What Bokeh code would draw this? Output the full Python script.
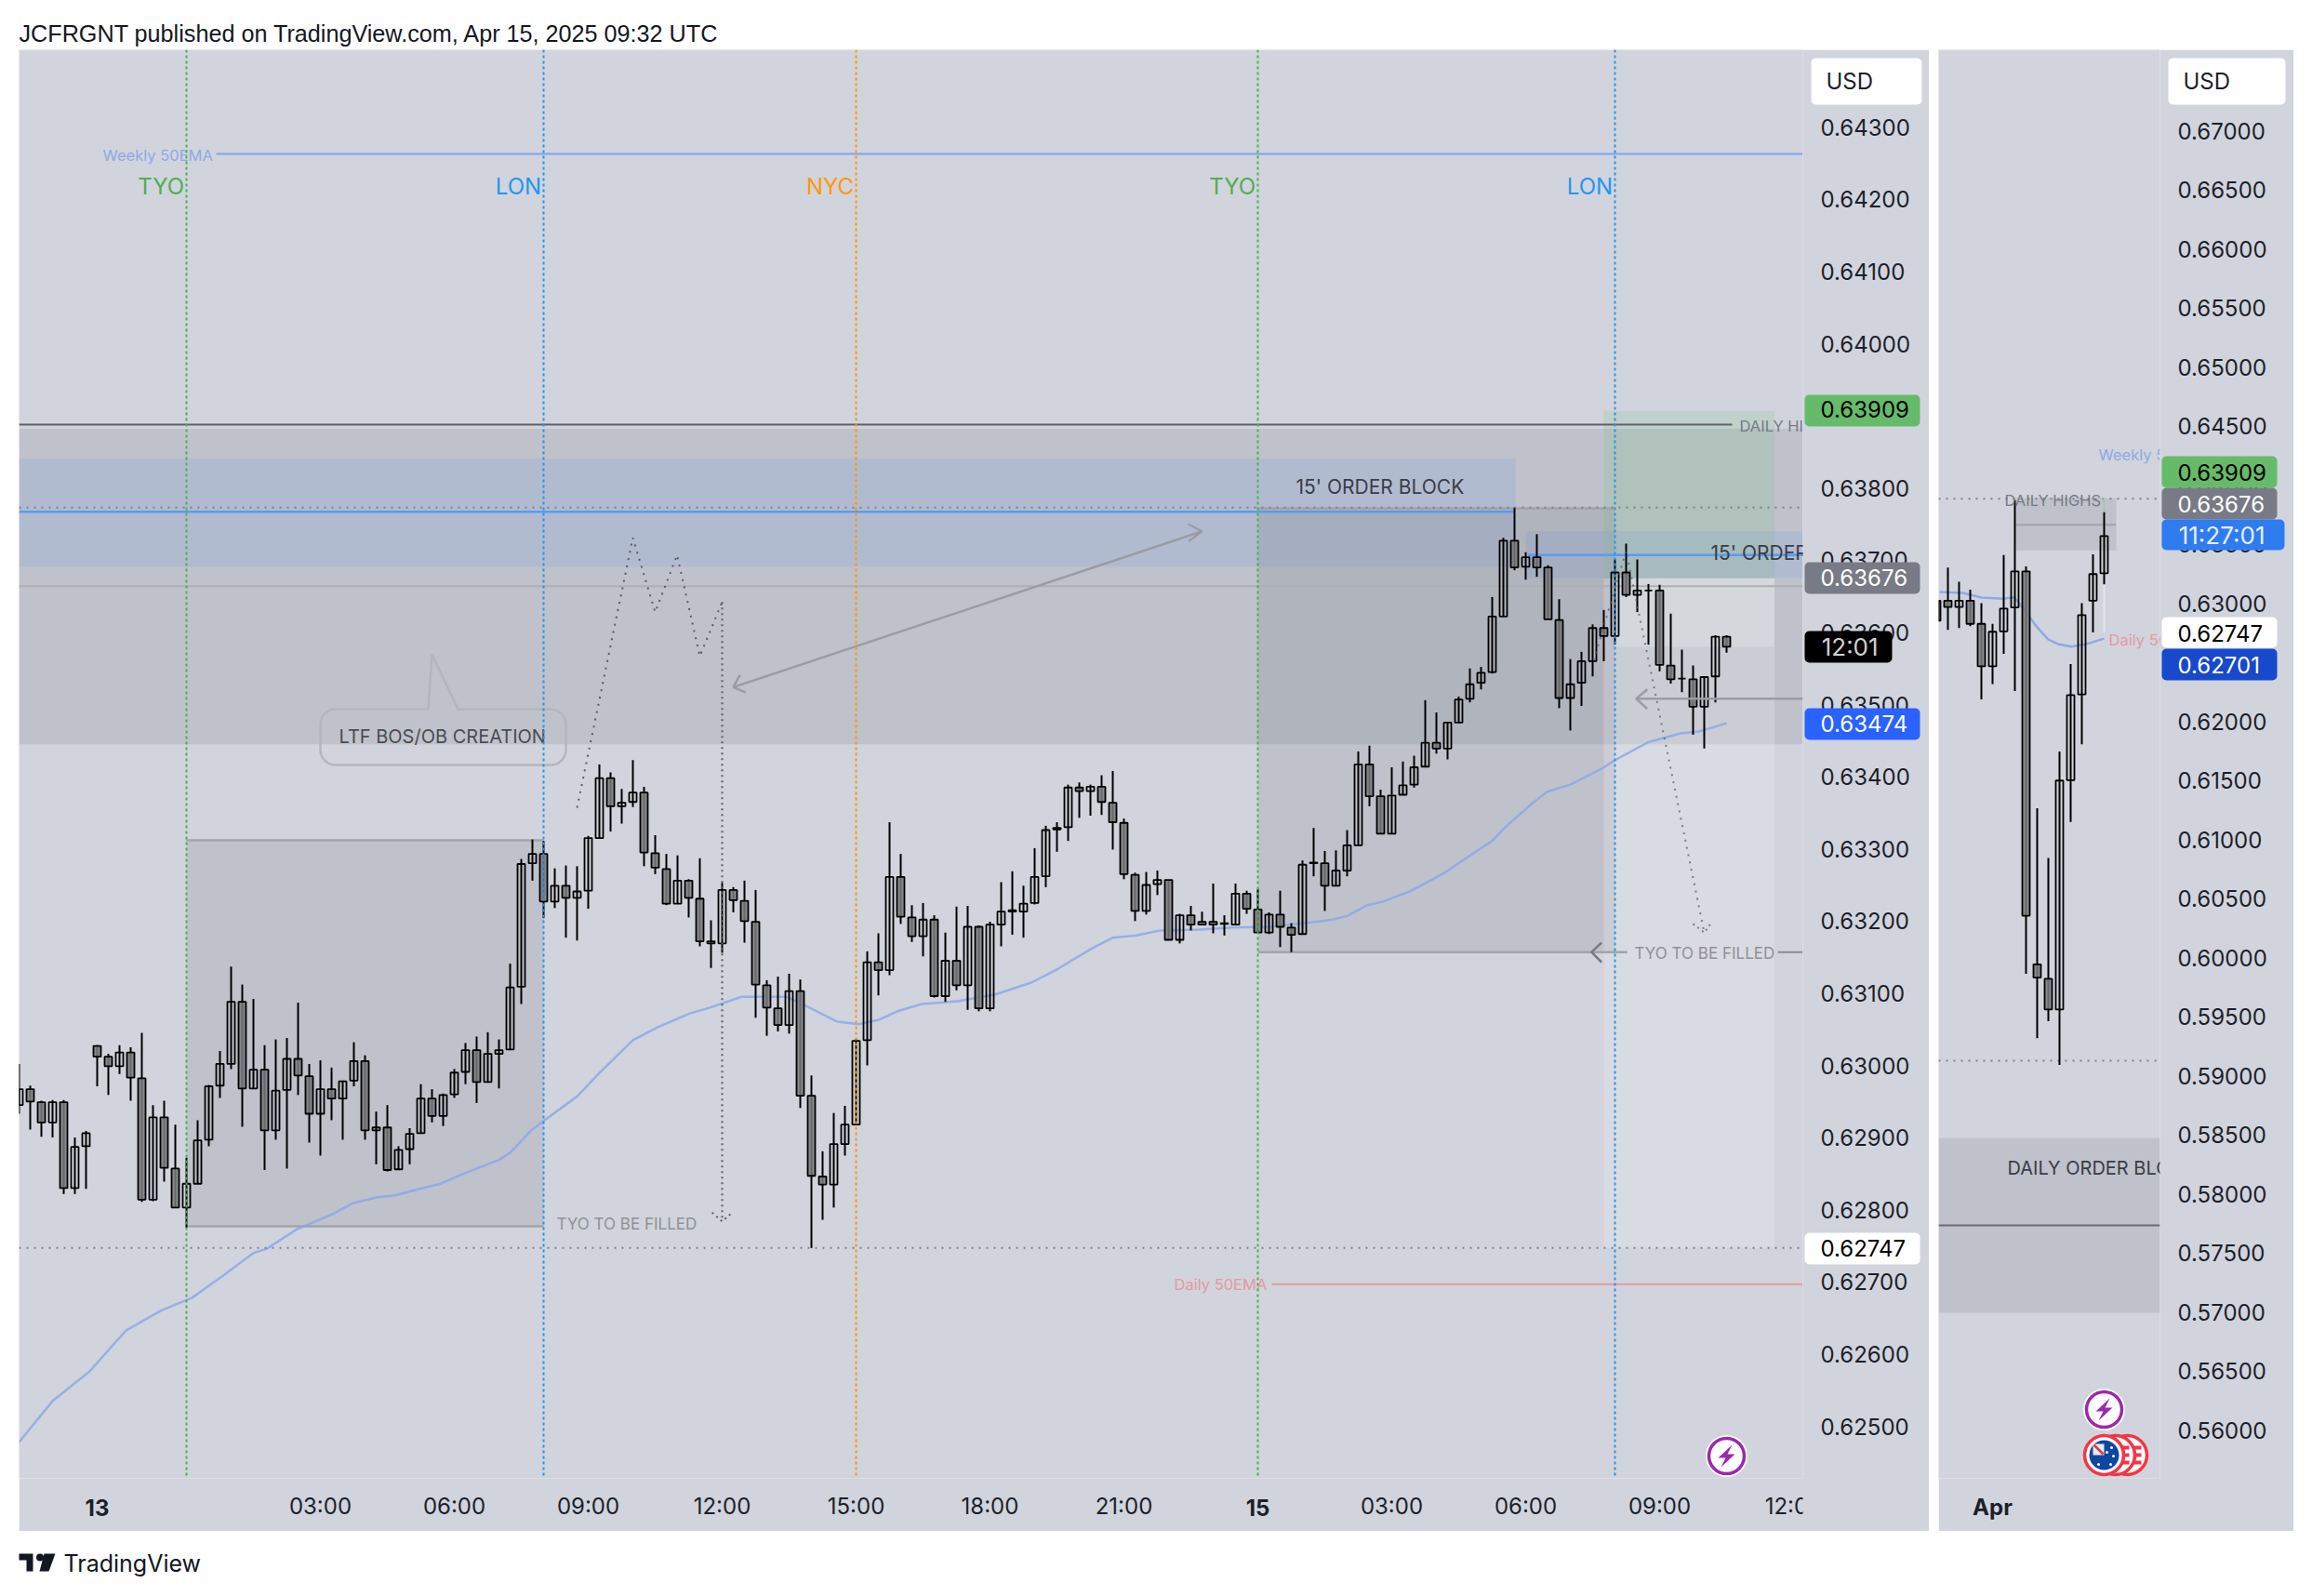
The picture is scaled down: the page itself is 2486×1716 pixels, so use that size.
import numpy as np
from bokeh.plotting import figure
from bokeh.layouts import column, row
from bokeh.models import Span, FixedTicker, PrintfTickFormatter, Spacer
from bokeh.core.properties import value
from bokeh.embed import file_html
from bokeh.resources import INLINE

# ---------- 15 minute pane: AUDUSD candles, index 0 = Apr 14 00:00 ----------
first_bar = -15
highs = [.63002,.62972,.62951,.62952,.62952,.62900,.62909,.63028,.63016,.63028,.63025,.63045,.62945,.62951,.62918,
 .62872,.62924,.62973,.63020,.63137,.63112,.63092,.63028,.63036,.63038,.63087,.63002,.63007,.62997,.62979,.63032,
 .63014,.62936,.62945,.62888,.62913,.62974,.62967,.62961,.62995,.63031,.63040,.63046,.63036,.63141,.63286,.63313,
 .63311,.63273,.63277,.63276,.63318,.63417,.63406,.63383,.63423,.63386,.63319,.63293,.63291,.63258,.63287,.63201,
 .63253,.63247,.63256,.63243,.63118,.63123,.63127,.63119,.62986,.62881,.62934,.62944,.63037,.63158,.63183,.63337,
 .63293,.63222,.63225,.63208,.63184,.63220,.63221,.63194,.63199,.63254,.63269,.63249,.63301,.63332,.63337,.63389,
 .63392,.63389,.63402,.63408,.63342,.63267,.63268,.63270,.63257,.63210,.63221,.63213,.63252,.63208,.63252,.63242,
 .63244,.63212,.63242,.63197,.63284,.63329,.63297,.63298,.63326,.63435,.63443,.63382,.63413,.63421,.63429,.63506,
 .63489,.63476,.63511,.63550,.63552,.63649,.63731,.63773,.63711,.63736,.63693,.63646,.63563,.63573,.63611,.63631,
 .63702,.63723,.63701,.63667,.63666,.63626,.63576,.63554,.63538,.63596,.63596]
body_tops = [.62967,.62967,.62949,.62949,.62949,.62887,.62906,.63027,.63012,.63018,.63018,.62982,.62928,.62928,.62857,
 .62836,.62896,.62971,.63002,.63088,.63088,.62994,.62994,.62965,.63009,.63009,.62985,.62967,.62967,.62978,.63006,
 .63006,.62914,.62914,.62883,.62905,.62954,.62954,.62959,.62990,.63021,.63021,.63016,.63021,.63108,.63279,.63293,
 .63293,.63249,.63249,.63241,.63315,.63398,.63398,.63364,.63378,.63378,.63294,.63272,.63256,.63256,.63231,.63172,
 .63243,.63243,.63228,.63199,.63111,.63079,.63103,.63103,.62958,.62846,.62891,.62918,.63034,.63143,.63143,.63261,
 .63261,.63205,.63202,.63202,.63145,.63145,.63192,.63192,.63195,.63213,.63215,.63224,.63261,.63326,.63329,.63385,
 .63385,.63386,.63386,.63364,.63336,.63264,.63250,.63257,.63257,.63208,.63208,.63199,.63199,.63197,.63238,.63238,
 .63216,.63209,.63209,.63191,.63278,.63281,.63280,.63270,.63305,.63417,.63417,.63373,.63374,.63388,.63413,.63447,
 .63447,.63475,.63507,.63528,.63544,.63622,.63727,.63727,.63704,.63704,.63690,.63617,.63528,.63560,.63606,.63606,
 .63683,.63683,.63658,.63658,.63658,.63554,.63536,.63535,.63538,.63594,.63594]
body_bottoms = [.62945,.62950,.62921,.62921,.62830,.62830,.62888,.63012,.62999,.62999,.62983,.62814,.62814,.62858,.62803,
 .62803,.62836,.62897,.62972,.63002,.62968,.62968,.62910,.62910,.62966,.62986,.62933,.62933,.62954,.62954,.62979,
 .62910,.62910,.62855,.62856,.62884,.62906,.62930,.62930,.62960,.62991,.62977,.62977,.63016,.63022,.63109,.63280,
 .63227,.63227,.63232,.63232,.63242,.63315,.63359,.63359,.63365,.63295,.63274,.63224,.63224,.63232,.63172,.63169,
 .63169,.63229,.63200,.63112,.63080,.63056,.63056,.62958,.62847,.62835,.62835,.62891,.62918,.63035,.63132,.63132,
 .63206,.63179,.63179,.63096,.63096,.63111,.63111,.63079,.63079,.63195,.63213,.63213,.63225,.63262,.63327,.63330,
 .63380,.63380,.63365,.63337,.63265,.63214,.63214,.63251,.63174,.63174,.63195,.63195,.63195,.63196,.63195,.63217,
 .63184,.63184,.63192,.63181,.63182,.63280,.63249,.63249,.63270,.63305,.63373,.63321,.63321,.63375,.63389,.63414,
 .63439,.63439,.63475,.63508,.63530,.63545,.63622,.63690,.63691,.63690,.63618,.63509,.63509,.63530,.63560,.63595,
 .63595,.63652,.63652,.63658,.63555,.63535,.63536,.63497,.63497,.63539,.63580]
lows = [.62933,.62911,.62901,.62900,.62822,.62822,.62829,.62971,.62959,.62988,.62951,.62811,.62812,.62839,.62803,
 .62775,.62836,.62888,.62955,.62995,.62915,.62968,.62855,.62897,.62857,.62959,.62893,.62875,.62924,.62897,.62971,
 .62897,.62863,.62853,.62856,.62863,.62906,.62921,.62916,.62955,.62974,.62948,.62977,.62968,.63022,.63085,.63256,
 .63204,.63218,.63177,.63173,.63217,.63315,.63324,.63335,.63358,.63276,.63265,.63222,.63224,.63205,.63165,.63135,
 .63156,.63212,.63170,.63066,.63041,.63047,.63044,.62941,.62747,.62786,.62803,.62875,.62918,.63000,.63097,.63125,
 .63196,.63171,.63151,.63094,.63088,.63104,.63077,.63075,.63075,.63165,.63181,.63177,.63223,.63247,.63296,.63311,
 .63343,.63346,.63347,.63299,.63258,.63200,.63209,.63236,.63174,.63169,.63187,.63195,.63183,.63180,.63195,.63210,
 .63184,.63182,.63164,.63157,.63182,.63262,.63214,.63249,.63262,.63305,.63359,.63321,.63321,.63375,.63385,.63414,
 .63432,.63424,.63474,.63503,.63521,.63543,.63622,.63686,.63673,.63677,.63618,.63495,.63464,.63498,.63539,.63560,
 .63583,.63649,.63628,.63583,.63546,.63529,.63517,.63458,.63439,.63503,.63572]
directions = ("UDDUDUUDDUDDUDD" "UUUUUDUDUUDDUDUU" "DUDUUUDUUUDUUUUU" "DUDUUU" "DUUDDDUDDDUDDD" "DDUDDDUUUUDUDDUDUDUDUU"
              "UUUUUUDUDDDDUU" "DUDDDUUDDUDDUUDUUUDDUUUUDU" "UUUUUDUDDDUUUDUDUUDDUDUUD")
assert len(highs) == len(lows) == len(body_tops) == len(body_bottoms) == len(directions) == 154
# 15 minute EMA
ema_bars = [-15,-12,-8.75,-5.4,-2.2,.5,3.4,6,7.2,9.9,13.1,14.9,17,18.7,20.9,22.75,25,28,29,30.9,32,35,36.9,40,42.25,45.1,
 46.9,49.75,53.8,55.7,58.25,60.2,62,63.7,65.9,69.1,70.6,72.4,75.75,78,81,83,85.1,87.25,90.75,93.75,97.1,99.3,100.8,
 102.7,104,105.8,107.2,109.75,112.75,115.8,117,118.3,120.6,121.9,124,126.9,128,131,133.9,135.6,138]
ema_vals = [.62478,.62535,.62575,.62633,.62661,.62678,.62710,.62740,.62746,.62773,.62794,.62809,.62817,.62820,.62829,
 .62836,.62851,.62869,.62879,.62910,.62923,.62957,.62988,.63035,.63053,.63072,.63080,.63095,.63095,.63081,.63061,
 .63057,.63063,.63075,.63085,.63089,.63093,.63098,.63115,.63133,.63161,.63177,.63180,.63187,.63188,.63191,.63192,
 .63196,.63198,.63202,.63207,.63222,.63227,.63242,.63267,.63299,.63311,.63332,.63363,.63379,.63389,.63412,.63423,
 .63448,.63460,.63463,.63474]
price_ticks = [.625,.626,.627,.628,.629,.630,.631,.632,.633,.634,.635,.636,.637,.638,.639,.640,.641,.642,.643]
time_ticks = [12,24,36,48,60,72,84,108,120,132,144]
time_labels = ["03:00","06:00","09:00","12:00","15:00","18:00","21:00","03:00","06:00","09:00","12:00"]
sessions = [(0,"TYO","#4caf50"),(32,"LON","#2196f3"),(60,"NYC","#ff9800"),(96,"TYO","#4caf50"),(128,"LON","#2196f3")]

# ---------- daily pane ----------
d_bars = list(range(-1,15))
d_highs = [.63030,.63301,.63182,.63115,.63000,.62825,.63407,.63873,.63311,.61263,.60842,.61745,.62485,.63000,.63413,.63770]
d_tops  = [.63021,.63021,.63021,.63021,.62825,.62758,.62954,.63269,.63269,.59942,.59820,.61498,.62221,.62899,.63246,.63568]
d_bots  = [.62851,.62967,.62967,.62825,.62465,.62465,.62761,.62963,.60354,.59830,.59560,.59560,.61501,.62227,.63021,.63253]
d_lows  = [.62840,.62774,.62790,.62806,.62186,.62314,.62571,.62256,.59862,.59316,.59460,.59090,.61148,.61806,.62751,.63160]
d_dirs  = "UDUDDUUUDDDUUUUU"
d_ema_bars = [-.75,1.33,3,4.94,5.92,6.75,7.86,8.97,9.94,11.06,12.3,14]
d_ema_vals = [.63095,.63086,.63047,.63037,.6305,.62957,.62812,.62694,.62651,.62632,.62651,.62700]
d_ticks = [.56,.565,.57,.575,.58,.585,.59,.595,.60,.605,.61,.615,.62,.625,.63,.635,.64,.645,.65,.655,.66,.665,.67]

BG = "#d1d4dc"; GREY = "#787b86"; FONT = "Inter"; TEXT = "#1c1f2b"
FS = "24px"

def px(x): return (x-200)/12
def py(y): return .625+(1533-y)/77600
def dx(x): return (x-2094)/12
def dy(y): return .56+(1537-y)/12700

def make_pane(width, right, xr, yr, ticks):
    p = figure(width=width, height=1593, x_range=xr, y_range=yr, y_axis_location="right",
               output_backend="svg", toolbar_location=None, min_border_left=0, min_border_top=0,
               min_border_right=right, min_border_bottom=57, background_fill_color=BG, border_fill_color=BG,
               frame_align=False)
    p.grid.visible = False
    p.outline_line_color = None
    p.yaxis.ticker = FixedTicker(ticks=ticks)
    p.yaxis.formatter = PrintfTickFormatter(format="%.5f")
    for ax in (p.xaxis[0], p.yaxis[0]):
        ax.axis_line_color = None
        ax.major_tick_line_color = None
        ax.minor_tick_line_color = None
        ax.major_label_text_font = FONT
        ax.major_label_text_font_size = FS
        ax.major_label_text_color = TEXT
        ax.major_label_text_font_style = "normal"
    p.yaxis.major_label_standoff = 13
    p.xaxis.major_label_standoff = 9
    return p

def make_overlay(width, xr, yr):
    v = figure(width=width, height=1593, x_range=xr, y_range=yr, x_axis_location=None, y_axis_location=None,
               output_backend="svg", toolbar_location=None, min_border=0, frame_align=False,
               background_fill_alpha=0, border_fill_alpha=0)
    v.grid.visible = False
    v.outline_line_color = None
    v.styles = {"margin-left": f"-{width}px"}
    return v

def zone(p, x0, x1, y0, y1, color=GREY, alpha=.2):
    p.quad(left=x0, right=x1, bottom=y0, top=y1, fill_color=color, fill_alpha=alpha, line_color=None)

def hline(p, x0, x1, y, color, width=2, dash="solid", alpha=1):
    p.line([x0, x1], [y, y], line_color=color, line_width=width, line_dash=dash, line_alpha=alpha)

def words(p, x, y, t, color, size, align="left", weight="normal", alpha=1):
    p.text([x], [y], text=[t], text_color=color, text_font=value(FONT), text_font_size=size,
           text_align=align, text_baseline="middle", text_font_style=weight, text_alpha=alpha)

def candles(p, xs, hi, top, bot, lo, dirs, w):
    p.segment(xs, hi, xs, lo, line_color="#000000", line_width=2)
    ux = [x for x, d in zip(xs, dirs) if d == "U"]
    dxs = [x for x, d in zip(xs, dirs) if d == "D"]
    p.vbar(ux, width=w, top=[t for t, d in zip(top, dirs) if d == "U"], bottom=[b for b, d in zip(bot, dirs) if d == "U"],
           fill_alpha=0, line_color="#000000", line_width=1.8)
    p.vbar(dxs, width=w, top=[t for t, d in zip(top, dirs) if d == "D"], bottom=[b for b, d in zip(bot, dirs) if d == "D"],
           fill_color="#7a7b7f", fill_alpha=.85, line_color="#000000", line_width=1.8)

def tag(v, x0, x1, xt, ya, yb, yc, text, bg, fg, size=FS):
    v.quad(left=[x0], right=[x1], bottom=[yb], top=[ya], fill_color=bg, line_color=None, border_radius=5)
    words(v, xt, yc, text, fg, size)

def bolt(p, cx, cy, fx, fy):
    p.scatter([fx(cx)], [fy(cy)], size=42, marker="circle", fill_color="#ffffff", line_color="#ffffff", line_width=3)
    p.scatter([fx(cx)], [fy(cy)], size=38, marker="circle", fill_color="#ffffff", line_color="#9c27b0", line_width=3.5)
    s = [(6,-12),(-9,2),(-1,2),(-6,12),(9,-2),(1,-2)]
    p.patch([fx(cx+a) for a, b in s], [fy(cy+b) for a, b in s], fill_color="#9c27b0", line_color=None)

# ================= main pane =================
x_end = px(1938)
p1 = make_pane(2054, 136, (first_bar, x_end), (py(1589), py(53)), price_ticks)
p1.xaxis.ticker = FixedTicker(ticks=time_ticks)
p1.xaxis.major_label_overrides = {t: l for t, l in zip(time_ticks, time_labels)}
v1 = make_overlay(2054, (px(20), px(2074)), (py(1646), py(53)))

zone(p1, first_bar, x_end, .63445, .63882)                 # daily order block
zone(p1, first_bar, 119.1, .63691, .63841, "#5493f1", .13) # 15' order block
zone(p1, 120, x_end, .63675, .63740, "#5493f1", .13)
zone(p1, 96, 128, .63157, .63772)                          # TYO box 2
zone(p1, 0, 32, .62777, .63312)                            # TYO box 1
zone(p1, 127, 142.3, .63675, .63907, "#66bb6a", .15)       # long position
zone(p1, 127, 142.3, .62747, .63675, "#ffffff", .18)
zone(p1, 128, 142.3, .63580, .63675, "#ffffff", .2)

for y0, x0, x1 in [(.63312,0,32),(.62777,0,32),(.63157,96,129.1),(.63772,96,128)]:
    hline(p1, x0, x1, y0, "#a2a4aa", 2.5)
hline(p1, 142.6, x_end, .63157, "#8a8c92", 2)
hline(p1, first_bar, px(1862), .63888, "#5f6166", 2)
hline(p1, first_bar, x_end, .63664, "#adafb5", 2)
hline(p1, px(232), x_end, .64263, "#7ca3ef", 2)
hline(p1, px(1367), x_end, .62697, "#e79aa5", 2)
hline(p1, first_bar, 119, .63767, "#5b9bf0", 2.5)
hline(p1, 120.2, x_end, .63707, "#5b9bf0", 2.5)

p1.line(ema_bars, ema_vals, line_color="#8aa5ea", line_alpha=.8, line_width=2.5)
candles(p1, list(range(first_bar, first_bar+len(highs))), highs, body_tops, body_bottoms, lows, directions, .667)

hline(p1, first_bar, x_end, .63773, "#808288", 2, "2 6")
hline(p1, first_bar, x_end, .62747, "#808288", 2, "2 6")

# dotted projections
p1.line([35,40,42,43.96,46,48], [.63357,.63731,.63628,.63707,.63567,.63642], line_color="#5a5c62", line_width=2, line_dash="2 6")
p1.line([48,48], [.63642,.62784], line_color="#5a5c62", line_width=2, line_dash="2 4")
p1.line([47.1,48,48.75], [.62796,.62784,.62794], line_color="#5a5c62", line_width=2, line_dash="2 4")
p1.line([126.1,129,136], [.63561,.63713,.63184], line_color="#5a5c62", line_width=2, line_dash="2 6", line_alpha=.75)
p1.line([135,136,136.6], [.63196,.63184,.63197], line_color="#5a5c62", line_width=2, line_dash="2 4", line_alpha=.75)

# arrows
arrow = "#9a9ca3"
p1.line([49,91], [.63524,.63740], line_color=arrow, line_width=2.5)
p1.line([49.6,49,50.1], [.63541,.63524,.63517], line_color=arrow, line_width=2.5)
p1.line([89.75,91,89.8], [.63750,.63740,.63726], line_color=arrow, line_width=2.5)
p1.line([129.9,x_end], [.63508,.63508], line_color=arrow, line_width=2.5)
p1.line([130.9,129.9,130.9], [.63521,.63508,.63494], line_color=arrow, line_width=2.5)
p1.line([126.8,125.9,126.8], [.63170,.63157,.63143], line_color="#77797f", line_width=2.5)

# callout
def callout():
    L, R, T, B, r = 344, 608, 762, 822, 16
    pts = [(460,T),(464,703),(492,T)]
    a = np.linspace(0, np.pi/2, 7)
    pts += [(R-r+r*np.sin(t), T+r-r*np.cos(t)) for t in a]
    pts += [(R-r+r*np.cos(t), B-r+r*np.sin(t)) for t in a]
    pts += [(L+r-r*np.sin(t), B-r+r*np.cos(t)) for t in a]
    pts += [(L+r-r*np.cos(t), T+r-r*np.sin(t)) for t in a]
    pts += [(460,T)]
    return [px(x) for x, y in pts], [py(y) for x, y in pts]
cx, cy = callout()
p1.line(cx, cy, line_color="#b4b6bc", line_width=2.5)

# session markers
for b, name, c in sessions:
    p1.add_layout(Span(location=b, dimension="height", line_color=c, line_width=2, line_dash="3 3"))
    p1.text([b-.2], [.64218], text=[name], text_color=c, text_font=value(FONT), text_font_size="24px",
            text_align="right", text_baseline="middle")

words(p1, px(110), py(166), "Weekly 50EMA", "#8fa9e6", "16.5px")
words(p1, px(1262), py(1380), "Daily 50EMA", "#e39aa5", "16.5px")
words(p1, px(598), py(1315), "TYO TO BE  FILLED", "#8f9198", "17px")
words(p1, px(1757), py(1024), "TYO TO BE  FILLED", "#8f9198", "17px")
words(p1, px(364), py(791), "LTF BOS/OB CREATION", "#4a4c52", "20px")
words(p1, px(1393), py(523), "15' ORDER BLOCK", "#3a3d46", "21px")
words(p1, px(1839), py(594), "15' ORDER BLOCK", "#3a3d46", "21px")
words(p1, px(1870), py(457), "DAILY HIGHS", "#787b86", "16.5px")
bolt(p1, 1856, 1565, px, py)

# price tags and bold date labels, drawn over the axis strips
v1.quad(left=[px(1938)], right=[px(2000)], bottom=[py(1646)], top=[py(1590)], fill_color=BG, line_color=None)
X0, X1, XT = px(1940), px(2064), px(1957)
tag(v1, X0, X1, XT, py(424), py(458), .63909, "0.63909", "#66bb6a", "#000000")
tag(v1, X0, X1, XT, py(604), py(638), .63676, "0.63676", GREY, "#ffffff")
tag(v1, X0, px(2034), XT+.1, py(678), py(712), py(695), "12:01", "#000000", "#d0d0d0", "26px")
tag(v1, X0, X1, XT, py(761), py(795), .63474, "0.63474", "#2962ff", "#ffffff")
tag(v1, X0, X1, XT, py(1325), py(1359), .62747, "0.62747", "#ffffff", "#000000")
tag(v1, px(1947), px(2066), px(1963), py(62), py(112), py(87), "USD", "#ffffff", TEXT)
words(v1, -8, py(1620), "13", TEXT, FS, "center", "bold")
words(v1, 96, py(1620), "15", TEXT, FS, "center", "bold")

# ================= daily pane =================
dx_end = dx(2322)
p2 = make_pane(382, 144, (dx(2084), dx_end), (dy(1589), dy(53)), d_ticks)
p2.xaxis.ticker = FixedTicker(ticks=[])
v2 = make_overlay(382, (dx(2084), dx(2466)), (dy(1646), dy(53)))

zone(p2, 6.06, 15.08, .63446, .63889)
zone(p2, dx(2084), dx_end, .56992, .58472)
hline(p2, 6.06, 15.08, .63664, "#a2a4aa", 2)
hline(p2, dx(2084), dx_end, .57732, "#6a6c72", 2)
hline(p2, dx(2084), dx_end, .63883, "#808288", 2, "2 6")
hline(p2, dx(2084), dx_end, .59126, "#808288", 2, "2 6")
p2.line([14,14], [.63889,.63770], line_color="#a9c4ae", line_width=2)
p2.line([14,14], [.63160,.62750], line_color="#e3e5ea", line_width=2)
p2.line(d_ema_bars, d_ema_vals, line_color="#8fa8e8", line_width=2.5)
candles(p2, d_bars, d_highs, d_tops, d_bots, d_lows, d_dirs, .667)

words(p2, dx(2155), dy(537), "DAILY HIGHS", "#787b86", "16.5px")
words(p2, dx(2158), dy(1255), "DAILY ORDER BLOCK", "#3a3d46", "20px")
words(p2, dx(2256), dy(488), "Weekly 50EMA", "#8fa9e6", "16.5px")
words(p2, dx(2267), dy(687), "Daily 50EMA", "#e39aa5", "16.5px")

bolt(p2, 2262, 1515, dx, dy)
for fx_ in (2287, 2274):
    p2.scatter([dx(fx_)], [dy(1564)], size=42, marker="circle", fill_color="#ffffff", line_color="#f23645", line_width=3.5)
    for off in (-8, 0, 8):
        p2.segment([dx(fx_+4)], [dy(1564+off)], [dx(fx_+15)], [dy(1564+off)], line_color="#f23645", line_width=4)
p2.scatter([dx(2262)], [dy(1564)], size=42, marker="circle", fill_color="#ffffff", line_color="#f23645", line_width=3.5)
p2.scatter([dx(2262)], [dy(1564)], size=32, marker="circle", fill_color="#0d47a1", line_color=None)
p2.quad(left=[dx(2250)], right=[dx(2262)], bottom=[dy(1564)], top=[dy(1552)], fill_color="#e9e9ef", line_color=None)
p2.segment([dx(2251)], [dy(1553)], [dx(2261)], [dy(1563)], line_color="#e53935", line_width=2.5)
p2.scatter([dx(a) for a in (2270,2265,2272,2256,2269)], [dy(b) for b in (1556,1561,1565,1574,1574)], size=3, marker="circle",
           fill_color="#ffffff", line_color=None)

X0, X1, XT = dx(2324), dx(2448), dx(2341)
tag(v2, X0, X1, XT, dy(490), dy(524), dy(507), "0.63909", "#66bb6a", "#000000")
tag(v2, X0, X1, XT, dy(524), dy(558), dy(541), "0.63676", GREY, "#ffffff")
tag(v2, X0, dx(2456), XT+.1, dy(558), dy(591), dy(575), "11:27:01", "#2f7bf0", "#e8f0ff", "26px")
tag(v2, X0, X1, XT, dy(663), dy(696), .62747, "0.62747", "#ffffff", "#000000")
tag(v2, X0, X1, XT, dy(697), dy(731), dy(714), "0.62701", "#1848cc", "#ffffff")
tag(v2, dx(2331), dx(2457), dx(2347), dy(62), dy(112), dy(87), "USD", "#ffffff", TEXT)
words(v2, dx(2142), dy(1620), "Apr", TEXT, FS, "center", "bold")

# ================= header / footer =================
def strip(h):
    s = figure(width=2466, height=h, x_range=(0,2466), y_range=(h,0), output_backend="svg", toolbar_location=None,
               min_border=0, background_fill_color="#ffffff", border_fill_color="#ffffff", frame_align=False)
    s.axis.visible = False
    s.grid.visible = False
    s.outline_line_color = None
    return s

head = strip(53)
head.text([20], [35], text=["JCFRGNT published on TradingView.com, Apr 15, 2025 09:32 UTC"], text_color="#131722",
          text_font=value("Liberation Sans"), text_font_size="25.2px", text_align="left", text_baseline="middle")

foot = strip(55)
foot.patch([20,35,35,28,28,20], [24,24,43,43,31,31], fill_color="#131722", line_color=None)
foot.scatter([42.5], [28], size=8, marker="circle", fill_color="#131722", line_color=None)
foot.patch([47,59,52,42], [24,24,43,43], fill_color="#131722", line_color=None)
foot.text([68], [34], text=["TradingView"], text_color="#131722", text_font=value(FONT), text_font_size="25px",
          text_align="left", text_baseline="middle")

page = column(head, row(Spacer(width=20), p1, v1, Spacer(width=10), p2, v2, spacing=0), foot, spacing=0)
open("out.html", "w").write(file_html(page, INLINE))
